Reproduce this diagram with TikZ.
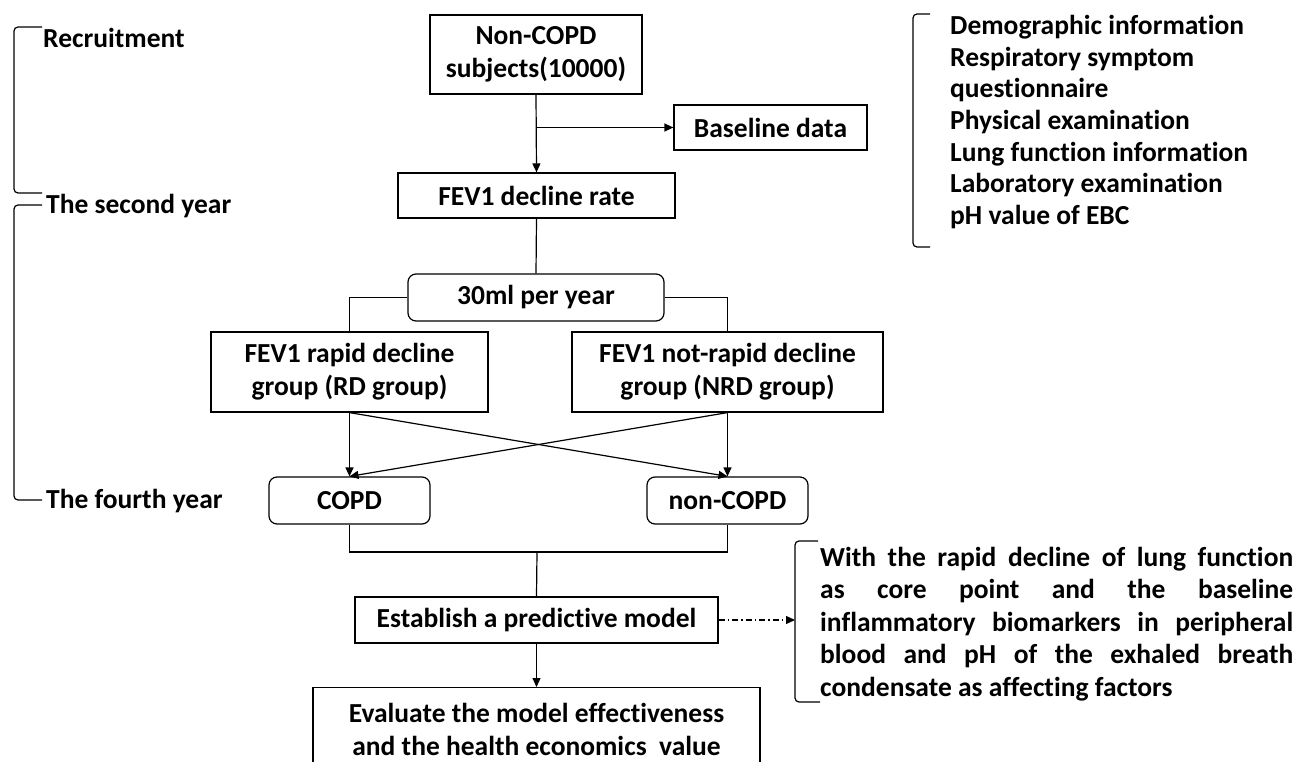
\documentclass[tikz,border=0pt]{standalone}
\usepackage{fontspec}
\setmainfont{Carlito}[Ligatures=NoCommon]
\usetikzlibrary{arrows.meta}

\tikzset{
  box/.style={draw, line width=1.2pt, align=center, inner sep=0pt,
    font=\bfseries\fontsize{27.5}{33}\selectfont},
  rbox/.style={box, rounded corners=8pt},
  lbl/.style={inner sep=0pt, font=\bfseries\fontsize{27.5}{31.7}\selectfont},
  con/.style={line width=1.2pt},
  arr/.style={con, -{Triangle[length=9pt,width=8pt]}},
  brk/.style={line width=1.2pt, rounded corners=4pt}
}

\begin{document}
\begin{tikzpicture}[x=1pt,y=-1pt]
	\useasboundingbox (0,0) rectangle (1302,762);
	\clip (0,0) rectangle (1302,762);

	\node[box, minimum width=212pt, minimum height=79pt] (nonc) at (536,54.5) {Non-COPD\\subjects(10000)};
	\node[box, minimum width=193pt, minimum height=45pt] (base) at (770.5,127.5) {Baseline data};
	\node[box, minimum width=277pt, minimum height=45pt] (rate) at (536.5,195.5) {FEV1 decline rate};
	\node[rbox, minimum width=256pt, minimum height=47pt] (cut) at (536,297.5) {30ml per year};
	\node[box, minimum width=277pt, minimum height=80pt] (rd) at (349.5,372) {FEV1 rapid decline\\group (RD group)};
	\node[box, minimum width=311pt, minimum height=80pt] (nrd) at (727.5,372) {FEV1 not-rapid decline\\group (NRD group)};
	\node[rbox, minimum width=161pt, minimum height=47pt] (copd) at (349.5,500.5) {COPD};
	\node[rbox, minimum width=161pt, minimum height=47pt] (ncopd) at (727.5,500.5) {non-COPD};
	\node[box, minimum width=363pt, minimum height=46pt] (model) at (536.5,620) {Establish a predictive model};
	\node[box, anchor=north, minimum width=447pt, minimum height=84pt] (eval) at (536.5,687) {Evaluate the model effectiveness\\and the health economics\ \ value};

	\coordinate (join) at (537,552);
	\coordinate (note) at (795,620);

	\draw[arr] (nonc.south) -- (rate.north);
	\draw[arr] (nonc.south |- base.west) -- (base.west);
	\draw[con] (rate.south) -- (cut.north);
	\draw[con] (cut.west) -| (rd.north);
	\draw[con] (cut.east) -| (nrd.north);
	\draw[arr] (rd.south) -- (copd.north);
	\draw[arr] (rd.south) -- (ncopd.north);
	\draw[arr] (nrd.south) -- (ncopd.north);
	\draw[arr] (nrd.south) -- (copd.north);
	\draw[con] (copd.south) |- (join) -| (ncopd.south);
	\draw[con] (join) -- (model.north);
	\draw[arr] (model.south) -- (eval.north);
	\draw[arr, dash pattern=on 6pt off 3pt on 1.5pt off 3pt] (model.east) -- (note);

	\draw[brk] (42,27) -- (14,27) -- (14,193) -- (42,193);
	\draw[brk] (42,205) -- (14,205) -- (14,500) -- (42,500);
	\draw[brk] (930,14) -- (913,14) -- (913,247) -- (930,247);
	\draw[brk] (818,541) -- (795,541) -- (795,702) -- (820,702);

	\node[lbl, anchor=west] (recr) at (43,38) {Recruitment};
	\node[lbl, anchor=west] (second) at (46,206) {The second year};
	\node[lbl, anchor=west] (fourth) at (46,501) {The fourth year};

	\node[lbl, align=left, anchor=north west] (items) at (950,15) {Demographic information\\Respiratory symptom\\questionnaire\\Physical examination\\Lung function information\\Laboratory examination\\pH value of EBC};

	\node[lbl, align=left, anchor=north west, font=\bfseries\fontsize{27.5}{32.5}\selectfont] (factors) at (820,547) {\makebox[473pt][s]{With the rapid decline of lung function}\\\makebox[473pt][s]{as core point and the baseline}\\\makebox[473pt][s]{inflammatory biomarkers in peripheral}\\\makebox[473pt][s]{blood and pH of the exhaled breath}\\condensate as affecting factors};
\end{tikzpicture}
\end{document}
